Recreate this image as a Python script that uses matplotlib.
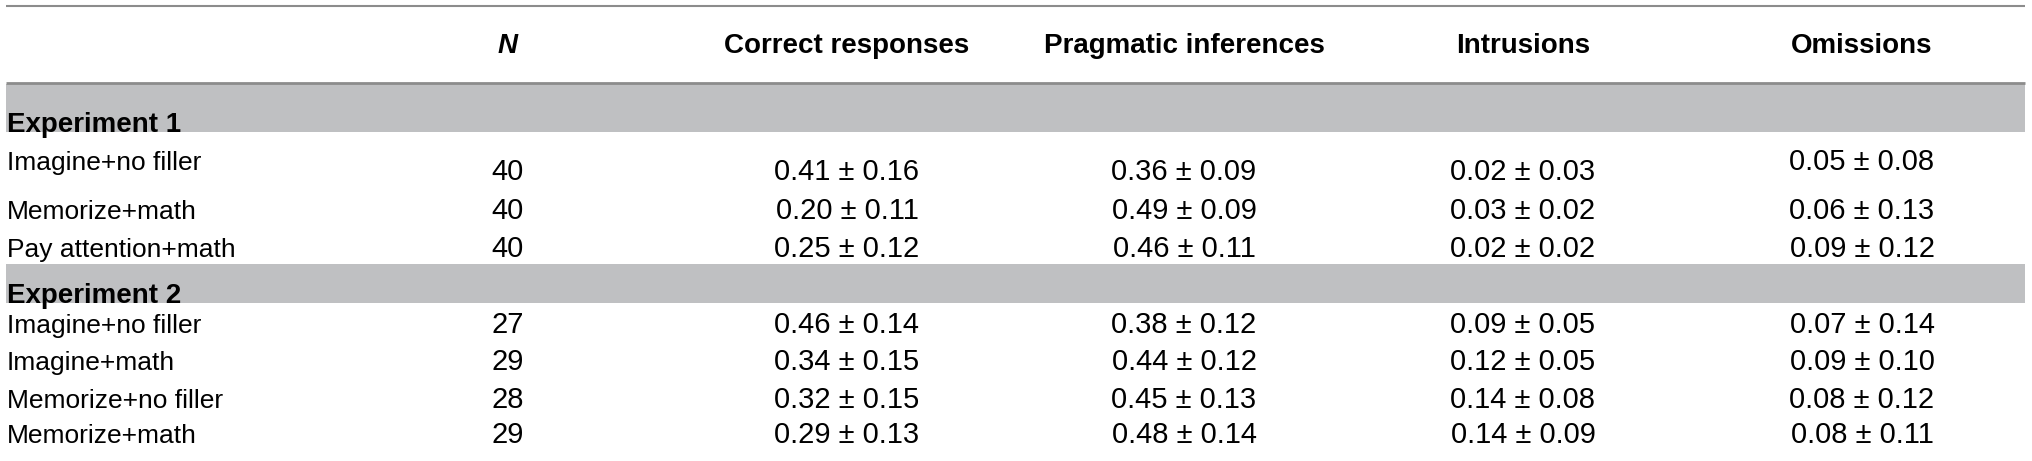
import matplotlib.pyplot as plt
from matplotlib.patches import Rectangle

# Table data
headers = ["N", "Correct responses", "Pragmatic inferences", "Intrusions", "Omissions"]
groups = ["Experiment 1", "Experiment 2"]
conditions = [
    ["Imagine+no filler", "Memorize+math", "Pay attention+math"],
    ["Imagine+no filler", "Imagine+math", "Memorize+no filler", "Memorize+math"],
]
n_values = [[40, 40, 40], [27, 29, 28, 29]]
correct_mean = [[0.41, 0.20, 0.25], [0.46, 0.34, 0.32, 0.29]]
correct_sd = [[0.16, 0.11, 0.12], [0.14, 0.15, 0.15, 0.13]]
pragmatic_mean = [[0.36, 0.49, 0.46], [0.38, 0.44, 0.45, 0.48]]
pragmatic_sd = [[0.09, 0.09, 0.11], [0.12, 0.12, 0.13, 0.14]]
intrusion_mean = [[0.02, 0.03, 0.02], [0.09, 0.12, 0.14, 0.14]]
intrusion_sd = [[0.03, 0.02, 0.02], [0.05, 0.05, 0.08, 0.09]]
omission_mean = [[0.05, 0.06, 0.09], [0.07, 0.09, 0.08, 0.08]]
omission_sd = [[0.08, 0.13, 0.12], [0.14, 0.10, 0.12, 0.11]]

# Layout (pixel coordinates, y grows downward)
W, H = 2032, 461
left, right = 6, 2025
col_x = [508, 847, 1184, 1523, 1862]
header_base = 53
bands = [(84, 132), (264, 303)]          # grey group bands (top, bottom)
row_base = [[180, 219, 257], [333, 370, 408, 443]]
fs_head = 20
fs_label = 19
fs_val = 21
band_color = "#bfc0c2"
line_color = "#8c8c8c"
font = "Liberation Sans"

fig = plt.figure(figsize=(W / 100, H / 100), dpi=100)
ax = fig.add_axes([0, 0, 1, 1])
ax.set_xlim(0, W)
ax.set_ylim(H, 0)
ax.axis("off")

# rules
ax.hlines(6, left, right, color=line_color, lw=1.5)
ax.hlines(83, left, right, color=line_color, lw=2)

# header
for i, h in enumerate(headers):
    style = "italic" if h == "N" else "normal"
    ax.text(col_x[i], header_base, h, ha="center", va="baseline", fontsize=fs_head,
            fontweight="bold", fontstyle=style, family=font)

for g, grp in enumerate(groups):
    top, bot = bands[g]
    ax.add_patch(Rectangle((left, top), right - left, bot - top, color=band_color, lw=0))
    ax.text(7, bot, grp, ha="left", va="baseline", fontsize=fs_head,
            fontweight="bold", family=font)

    cols = [
        [str(v) for v in n_values[g]],
        [f"{m:.2f} ± {s:.2f}" for m, s in zip(correct_mean[g], correct_sd[g])],
        [f"{m:.2f} ± {s:.2f}" for m, s in zip(pragmatic_mean[g], pragmatic_sd[g])],
        [f"{m:.2f} ± {s:.2f}" for m, s in zip(intrusion_mean[g], intrusion_sd[g])],
        [f"{m:.2f} ± {s:.2f}" for m, s in zip(omission_mean[g], omission_sd[g])],
    ]
    for r, cond in enumerate(conditions[g]):
        y = row_base[g][r]
        # first row of experiment 1 sits a bit higher for label and omissions
        shift = -10 if (g == 0 and r == 0) else 0
        ax.text(7, y + shift, cond, ha="left", va="baseline", fontsize=fs_label, family=font)
        for c in range(5):
            yy = y + shift if c == 4 else y
            ax.text(col_x[c], yy, cols[c][r], ha="center", va="baseline",
                    fontsize=fs_val, family=font)

fig.savefig("out.png", dpi=100)
